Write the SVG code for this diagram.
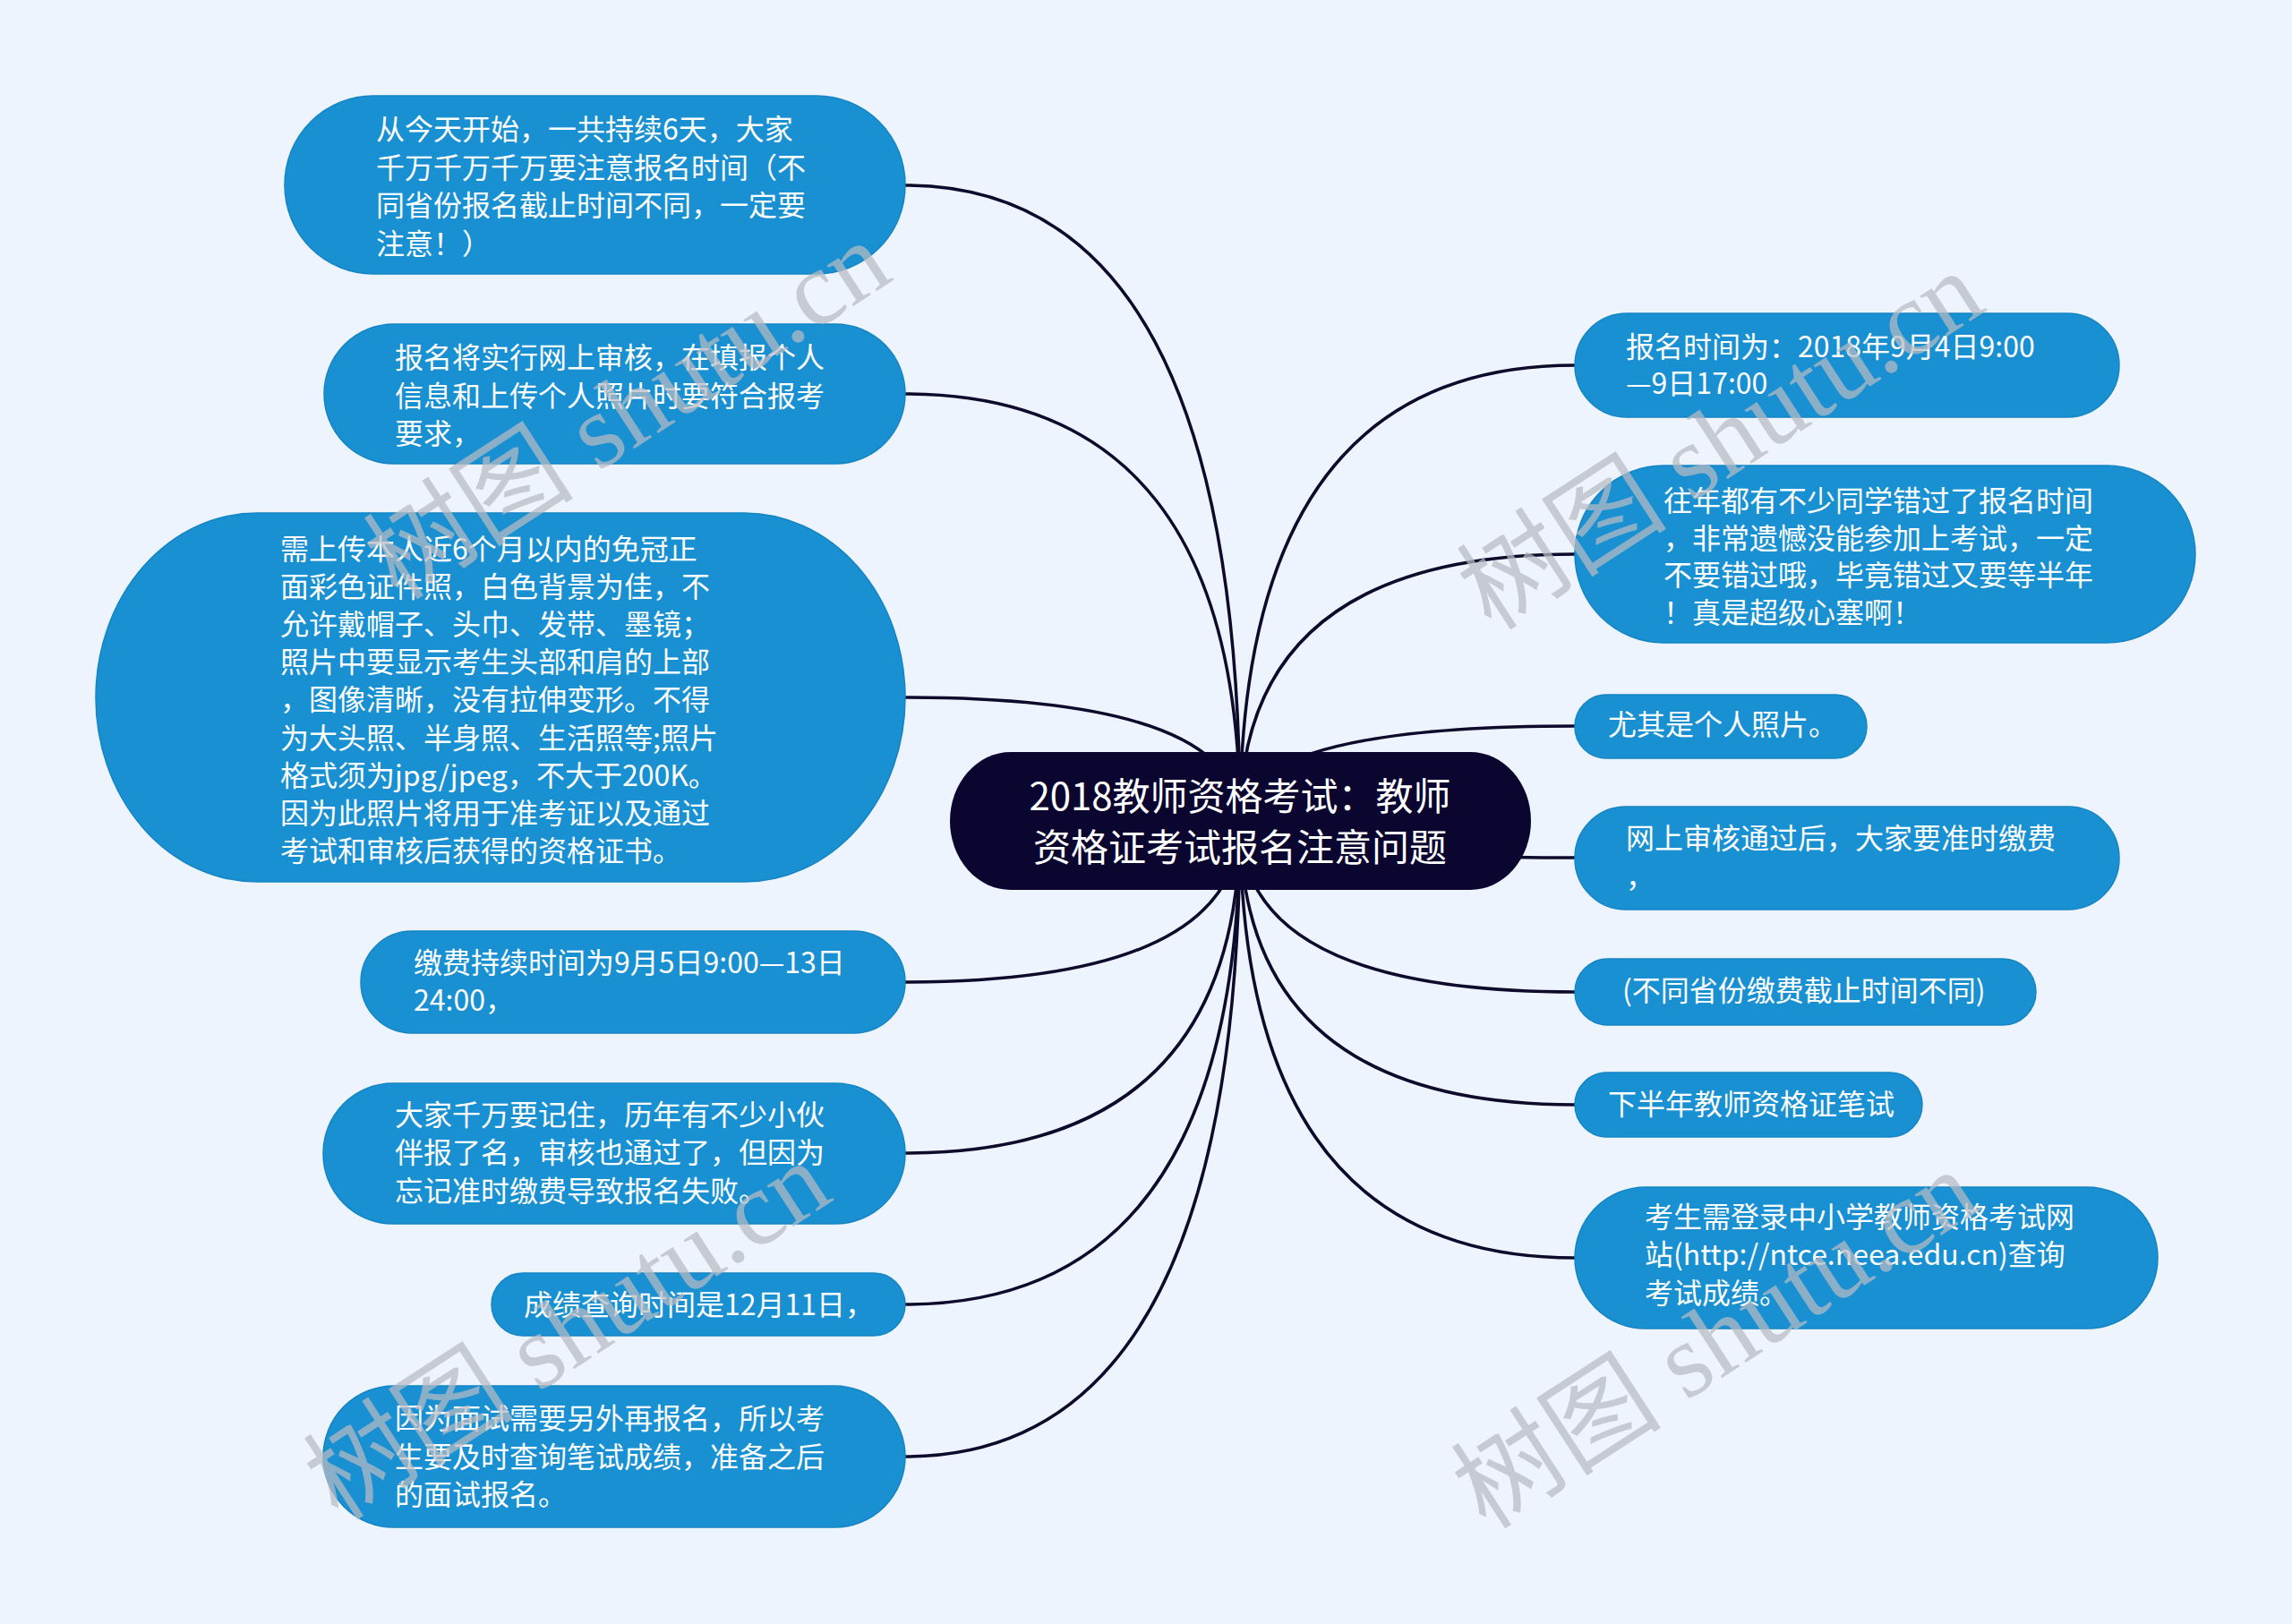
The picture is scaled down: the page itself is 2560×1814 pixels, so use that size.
<svg xmlns="http://www.w3.org/2000/svg" width="2560" height="1814" viewBox="0 0 2560 1814">
<style>
.bg{fill:#eef4fd}
.node{fill:#1890d2;stroke:#1684c4;stroke-width:1.5}
.root{fill:#0a0630}
.t{font-family:"Noto Sans CJK SC","Liberation Sans",sans-serif;font-size:32px;fill:#ffffff}
.rt{font-family:"Noto Sans CJK SC","Liberation Sans",sans-serif;font-size:42px;fill:#ffffff;text-anchor:middle}
.edge{fill:none;stroke:#0d0a2c;stroke-width:3.5}
.wm{font-family:"Liberation Serif","Noto Sans CJK SC",serif;font-size:118px;fill:#b8bcc4;opacity:0.72}
</style>
<rect class="bg" x="0" y="0" width="2560" height="1814"/>
<g id="connectors">
<path class="edge" d="M1385,917 Q1385,207 1011,207"/>
<path class="edge" d="M1385,917 Q1385,440 1011,440"/>
<path class="edge" d="M1385,917 Q1385,779 1011,779"/>
<path class="edge" d="M1385,917 Q1385,1097 1011,1097"/>
<path class="edge" d="M1385,917 Q1385,1288 1011,1288"/>
<path class="edge" d="M1385,917 Q1385,1457 1011,1457"/>
<path class="edge" d="M1385,917 Q1385,1627 1011,1627"/>
<path class="edge" d="M1385,917 Q1385,408 1759,408"/>
<path class="edge" d="M1385,917 Q1385,619 1759,619"/>
<path class="edge" d="M1385,917 Q1385,811 1759,811"/>
<path class="edge" d="M1385,917 Q1385,958 1759,958"/>
<path class="edge" d="M1385,917 Q1385,1108 1759,1108"/>
<path class="edge" d="M1385,917 Q1385,1234 1759,1234"/>
<path class="edge" d="M1385,917 Q1385,1405 1759,1405"/>
</g>
<g id="root">
<rect class="root" x="1061" y="840" width="649" height="154" rx="68" ry="77"/>
<text class="rt"><tspan x="1385" y="905">2018教师资格考试：教师</tspan><tspan x="1385" y="962">资格证考试报名注意问题</tspan></text>
</g>
<g id="n-l1">
<rect class="node" x="318" y="107" width="693" height="199" rx="99" ry="99"/>
<text class="t"><tspan x="420" y="156">从今天开始，一共持续6天，大家</tspan><tspan x="420" y="198.5">千万千万千万要注意报名时间（不</tspan><tspan x="420" y="241">同省份报名截止时间不同，一定要</tspan><tspan x="420" y="283.5">注意！）</tspan></text>
</g>
<g id="n-l2">
<rect class="node" x="362" y="362" width="649" height="156" rx="78" ry="78"/>
<text class="t"><tspan x="441" y="411">报名将实行网上审核，在填报个人</tspan><tspan x="441" y="454">信息和上传个人照片时要符合报考</tspan><tspan x="441" y="496">要求，</tspan></text>
</g>
<g id="n-l3">
<rect class="node" x="107" y="573" width="904" height="412" rx="180" ry="206"/>
<text class="t"><tspan x="313" y="624.5">需上传本人近6个月以内的免冠正</tspan><tspan x="313" y="666.7">面彩色证件照，白色背景为佳，不</tspan><tspan x="313" y="708.9">允许戴帽子、头巾、发带、墨镜；</tspan><tspan x="313" y="751.1">照片中要显示考生头部和肩的上部</tspan><tspan x="313" y="793.3">，图像清晰，没有拉伸变形。不得</tspan><tspan x="313" y="835.5">为大头照、半身照、生活照等;照片</tspan><tspan x="313" y="877.7">格式须为jpg/jpeg，不大于200K。</tspan><tspan x="313" y="919.9">因为此照片将用于准考证以及通过</tspan><tspan x="313" y="962.1">考试和审核后获得的资格证书。</tspan></text>
</g>
<g id="n-l4">
<rect class="node" x="403" y="1040" width="608" height="114" rx="57" ry="57"/>
<text class="t"><tspan x="462" y="1087">缴费持续时间为9月5日9:00—13日</tspan><tspan x="462" y="1129">24:00，</tspan></text>
</g>
<g id="n-l5">
<rect class="node" x="361" y="1210" width="650" height="157" rx="78" ry="78"/>
<text class="t"><tspan x="441" y="1257">大家千万要记住，历年有不少小伙</tspan><tspan x="441" y="1299">伴报了名，审核也通过了，但因为</tspan><tspan x="441" y="1342">忘记准时缴费导致报名失败。</tspan></text>
</g>
<g id="n-l6">
<rect class="node" x="549" y="1422" width="462" height="70" rx="35" ry="35"/>
<text class="t"><tspan x="585" y="1469">成绩查询时间是12月11日，</tspan></text>
</g>
<g id="n-l7">
<rect class="node" x="361" y="1548" width="650" height="158" rx="79" ry="79"/>
<text class="t"><tspan x="441" y="1596">因为面试需要另外再报名，所以考</tspan><tspan x="441" y="1639">生要及时查询笔试成绩，准备之后</tspan><tspan x="441" y="1681">的面试报名。</tspan></text>
</g>
<g id="n-r1">
<rect class="node" x="1759" y="350" width="608" height="116" rx="58" ry="58"/>
<text class="t"><tspan x="1816" y="399">报名时间为：2018年9月4日9:00</tspan><tspan x="1816" y="440">—9日17:00</tspan></text>
</g>
<g id="n-r2">
<rect class="node" x="1759" y="520" width="693" height="198" rx="99" ry="99"/>
<text class="t"><tspan x="1858" y="571">往年都有不少同学错过了报名时间</tspan><tspan x="1858" y="613">，非常遗憾没能参加上考试，一定</tspan><tspan x="1858" y="654">不要错过哦，毕竟错过又要等半年</tspan><tspan x="1858" y="696">！真是超级心塞啊！</tspan></text>
</g>
<g id="n-r3">
<rect class="node" x="1759" y="776" width="326" height="71" rx="35" ry="35"/>
<text class="t"><tspan x="1796" y="821">尤其是个人照片。</tspan></text>
</g>
<g id="n-r4">
<rect class="node" x="1759" y="901" width="608" height="115" rx="57" ry="57"/>
<text class="t"><tspan x="1816" y="948">网上审核通过后，大家要准时缴费</tspan><tspan x="1816" y="991">，</tspan></text>
</g>
<g id="n-r5">
<rect class="node" x="1759" y="1071" width="515" height="74" rx="37" ry="37"/>
<text class="t"><tspan x="1812" y="1118">(不同省份缴费截止时间不同)</tspan></text>
</g>
<g id="n-r6">
<rect class="node" x="1759" y="1198" width="388" height="72" rx="36" ry="36"/>
<text class="t"><tspan x="1796" y="1245">下半年教师资格证笔试</tspan></text>
</g>
<g id="n-r7">
<rect class="node" x="1759" y="1326" width="651" height="158" rx="79" ry="79"/>
<text class="t"><tspan x="1837" y="1371">考生需登录中小学教师资格考试网</tspan><tspan x="1837" y="1413">站(http://ntce.neea.edu.cn)查询</tspan><tspan x="1837" y="1456">考试成绩。</tspan></text>
</g>
<g id="watermarks">
<text class="wm" transform="translate(445,672) rotate(-33)">树图 shutu.cn</text>
<text class="wm" transform="translate(1666,706) rotate(-33)">树图 shutu.cn</text>
<text class="wm" transform="translate(378,1700) rotate(-33)">树图 shutu.cn</text>
<text class="wm" transform="translate(1660,1710) rotate(-33)">树图 shutu.cn</text>
</g>
</svg>
